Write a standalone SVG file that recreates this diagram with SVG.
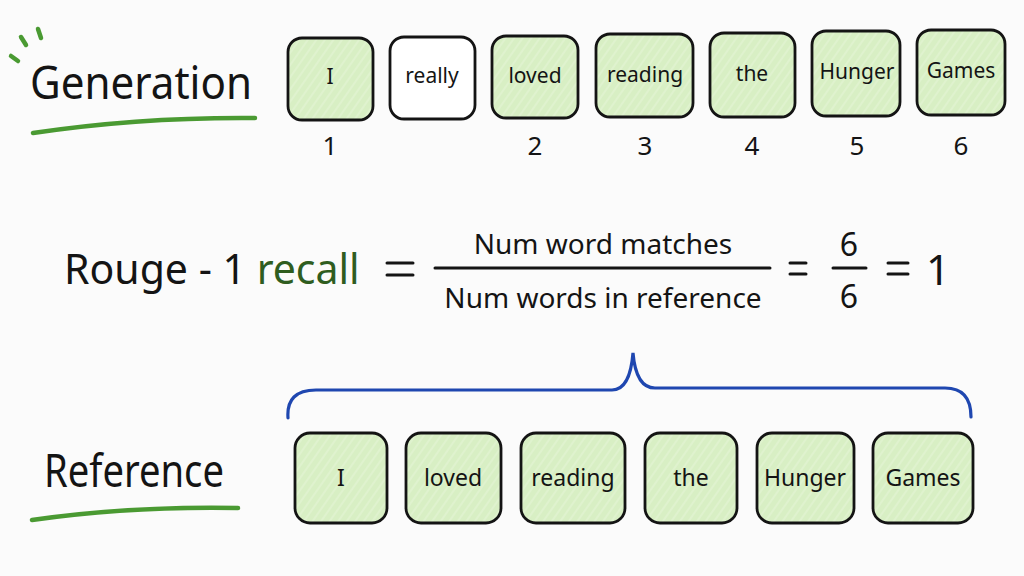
<svg xmlns="http://www.w3.org/2000/svg" width="1024" height="576" viewBox="0 0 1024 576">
<defs>
<pattern id="hatch" width="7" height="7" patternUnits="userSpaceOnUse" patternTransform="rotate(-55)">
<rect width="7" height="7" fill="#d8efc4"/>
<line x1="0" y1="2" x2="7" y2="2" stroke="#e2f4d3" stroke-width="1.4"/>
</pattern>
<style>
.box{stroke:#141414;stroke-width:2.8;fill:url(#hatch)}
.plain{stroke:#141414;stroke-width:2.8;fill:#ffffff}
.w{font-family:"Noto Sans","DejaVu Sans",sans-serif;fill:#141414;text-anchor:middle}
.bw{font-size:21px}
.rw{font-size:23px}
.num{font-family:"Noto Sans","DejaVu Sans",sans-serif;font-size:26px;fill:#141414;text-anchor:middle}
.title{font-family:"Noto Sans","DejaVu Sans",sans-serif;font-size:45px;fill:#141414}
.f{font-family:"Noto Sans","DejaVu Sans",sans-serif;fill:#141414}
.ul{stroke:#4a9a32;stroke-width:4.5;fill:none;stroke-linecap:round}
.ln{stroke:#141414;stroke-width:3;stroke-linecap:round}
</style>
</defs>
<rect width="1024" height="576" fill="#fbfbfb"/>

<g id="generation-title">
<line class="ul" x1="11" y1="56" x2="18" y2="61"/>
<line class="ul" x1="21" y1="37" x2="26" y2="45"/>
<line class="ul" x1="38" y1="29" x2="41" y2="38"/>
<text class="title" x="30" y="99" textLength="222" lengthAdjust="spacingAndGlyphs">Generation</text>
<path class="ul" d="M33 133 Q140 117 255 118"/>
</g>

<g id="gen-I"><rect class="box" x="288" y="38" width="85" height="82" rx="14"/><text class="w bw" x="330" y="84">I</text><text class="num" x="330" y="155">1</text></g>
<g id="gen-really"><rect class="plain" x="390" y="37" width="85" height="82" rx="14"/><text class="w bw" x="432" y="83">really</text></g>
<g id="gen-loved"><rect class="box" x="492" y="36" width="86" height="82" rx="14"/><text class="w bw" x="535" y="83">loved</text><text class="num" x="535" y="155">2</text></g>
<g id="gen-reading"><rect class="box" x="596" y="34" width="97" height="83" rx="14"/><text class="w bw" x="645" y="82">reading</text><text class="num" x="645" y="155">3</text></g>
<g id="gen-the"><rect class="box" x="710" y="33" width="85" height="84" rx="14"/><text class="w bw" x="752" y="81">the</text><text class="num" x="752" y="155">4</text></g>
<g id="gen-Hunger"><rect class="box" x="812" y="31" width="88" height="85" rx="14"/><text class="w bw" x="857" y="79">Hunger</text><text class="num" x="857" y="155">5</text></g>
<g id="gen-Games"><rect class="box" x="917" y="30" width="88" height="85" rx="14"/><text class="w bw" x="961" y="78">Games</text><text class="num" x="961" y="155">6</text></g>

<g id="formula">
<text class="f" x="64" y="284" font-size="41">Rouge - 1 <tspan fill="#2f5d1f">recall</tspan></text>
<line class="ln" x1="387" y1="263" x2="413" y2="263"/>
<line class="ln" x1="387" y1="275" x2="413" y2="275"/>
<line class="ln" x1="435" y1="268" x2="770" y2="268"/>
<text class="f" x="603" y="254" font-size="28" text-anchor="middle">Num word matches</text>
<text class="f" x="603" y="308" font-size="28" text-anchor="middle">Num words in reference</text>
<line class="ln" x1="790" y1="263" x2="806" y2="263"/>
<line class="ln" x1="790" y1="274" x2="806" y2="274"/>
<text class="f" x="849" y="256" font-size="32" text-anchor="middle">6</text>
<line class="ln" x1="833" y1="268" x2="866" y2="268"/>
<text class="f" x="849" y="308" font-size="32" text-anchor="middle">6</text>
<line class="ln" x1="888" y1="263" x2="908" y2="263"/>
<line class="ln" x1="888" y1="274" x2="908" y2="274"/>
<text class="f" x="938" y="285" font-size="42" text-anchor="middle">1</text>
</g>

<g id="connectors">
<path d="M288 418 Q286 390 316 390 L612 390 Q630 390 633 353 Q636 388 655 388 L945 388 Q971 388 971 417" fill="none" stroke="#1f47b0" stroke-width="3.2" stroke-linecap="round"/>
</g>

<g id="reference-title">
<text class="title" x="44" y="487" textLength="180" lengthAdjust="spacingAndGlyphs">Reference</text>
<path class="ul" d="M32 520 Q130 506 238 508"/>
</g>

<g id="ref-I"><rect class="box" x="295" y="433" width="92" height="90" rx="15"/><text class="w rw" x="341" y="486">I</text></g>
<g id="ref-loved"><rect class="box" x="406" y="433" width="95" height="90" rx="15"/><text class="w rw" x="453" y="486">loved</text></g>
<g id="ref-reading"><rect class="box" x="521" y="433" width="104" height="90" rx="15"/><text class="w rw" x="573" y="486">reading</text></g>
<g id="ref-the"><rect class="box" x="645" y="433" width="92" height="90" rx="15"/><text class="w rw" x="691" y="486">the</text></g>
<g id="ref-Hunger"><rect class="box" x="757" y="433" width="97" height="90" rx="15"/><text class="w rw" x="805" y="486">Hunger</text></g>
<g id="ref-Games"><rect class="box" x="873" y="433" width="100" height="90" rx="15"/><text class="w rw" x="923" y="486">Games</text></g>
</svg>
